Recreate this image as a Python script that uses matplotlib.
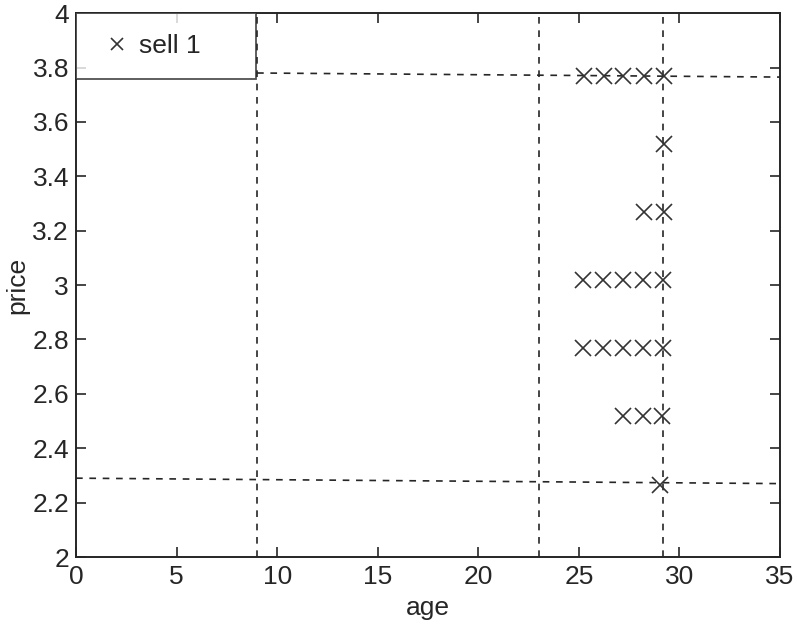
import matplotlib
matplotlib.use("Agg")
import matplotlib.pyplot as plt

plt.rcParams['font.family'] = ['Liberation Sans', 'DejaVu Sans']

sell_age = [25.25, 26.25, 27.2, 28.25, 29.25,
            29.25,
            28.25, 29.25,
            25.2, 26.2, 27.2, 28.2, 29.2,
            25.2, 26.2, 27.2, 28.2, 29.2,
            27.2, 28.2, 29.15,
            29.05]
sell_price = [3.77, 3.77, 3.77, 3.77, 3.77,
              3.52,
              3.27, 3.27,
              3.02, 3.02, 3.02, 3.02, 3.02,
              2.77, 2.77, 2.77, 2.77, 2.77,
              2.52, 2.52, 2.52,
              2.265]

vlines_x = [9.0, 23.0, 29.2]
hline_top_y = [3.78, 3.765]
hline_top_xrange = [9.0, 35.0]
hline_bot_y = [2.29, 2.27]
hline_bot_xrange = [0.0, 35.0]

xticks = [0, 5, 10, 15, 20, 25, 30, 35]
yticks = [2, 2.2, 2.4, 2.6, 2.8, 3, 3.2, 3.4, 3.6, 3.8, 4]
ytick_labels = ['2', '2.2', '2.4', '2.6', '2.8', '3', '3.2', '3.4', '3.6', '3.8', '4']

fig = plt.figure(figsize=(7.97, 6.27), dpi=100)
ax = fig.add_axes([0.0954, 0.1116, 0.8833, 0.8674])

ink = '#262626'
for xv in vlines_x:
    ax.plot([xv, xv], [2, 4], linestyle=(0, (4, 4)), color=ink, lw=1.2)
ax.plot(hline_top_xrange, hline_top_y, linestyle=(0, (4, 4)), color=ink, lw=1.2)
ax.plot(hline_bot_xrange, hline_bot_y, linestyle=(0, (4, 4)), color=ink, lw=1.2)

ax.plot(sell_age, sell_price, linestyle='none', marker='x', markersize=11,
        markeredgewidth=1.2, color='#333333', label='sell 1')

ax.set_xlim(0, 35)
ax.set_ylim(2, 4)
ax.set_xticks(xticks)
ax.set_yticks(yticks)
ax.set_yticklabels(ytick_labels)
ax.tick_params(direction='in', top=True, right=True, length=7, width=1.2,
               labelsize=19, colors=ink)
ax.tick_params(axis='x', pad=6)
ax.tick_params(axis='y', pad=5)
for s in ax.spines.values():
    s.set_linewidth(1.4)
    s.set_color(ink)
ax.set_xlabel('age', fontsize=19, color=ink, labelpad=5)
ax.set_ylabel('price', fontsize=19, color=ink, labelpad=2)

leg = ax.legend(loc='upper left', bbox_to_anchor=(0.0, 0.0, 8.95 / 35.0, 1.0),
                mode='expand', fontsize=19, frameon=True, fancybox=False,
                borderaxespad=0, handlelength=1.5, handletextpad=0.1,
                borderpad=0.8, labelcolor=ink, markerscale=0.8)
leg.get_frame().set_edgecolor(ink)
leg.get_frame().set_linewidth(1.3)

fig.savefig('out.png', dpi=100)
